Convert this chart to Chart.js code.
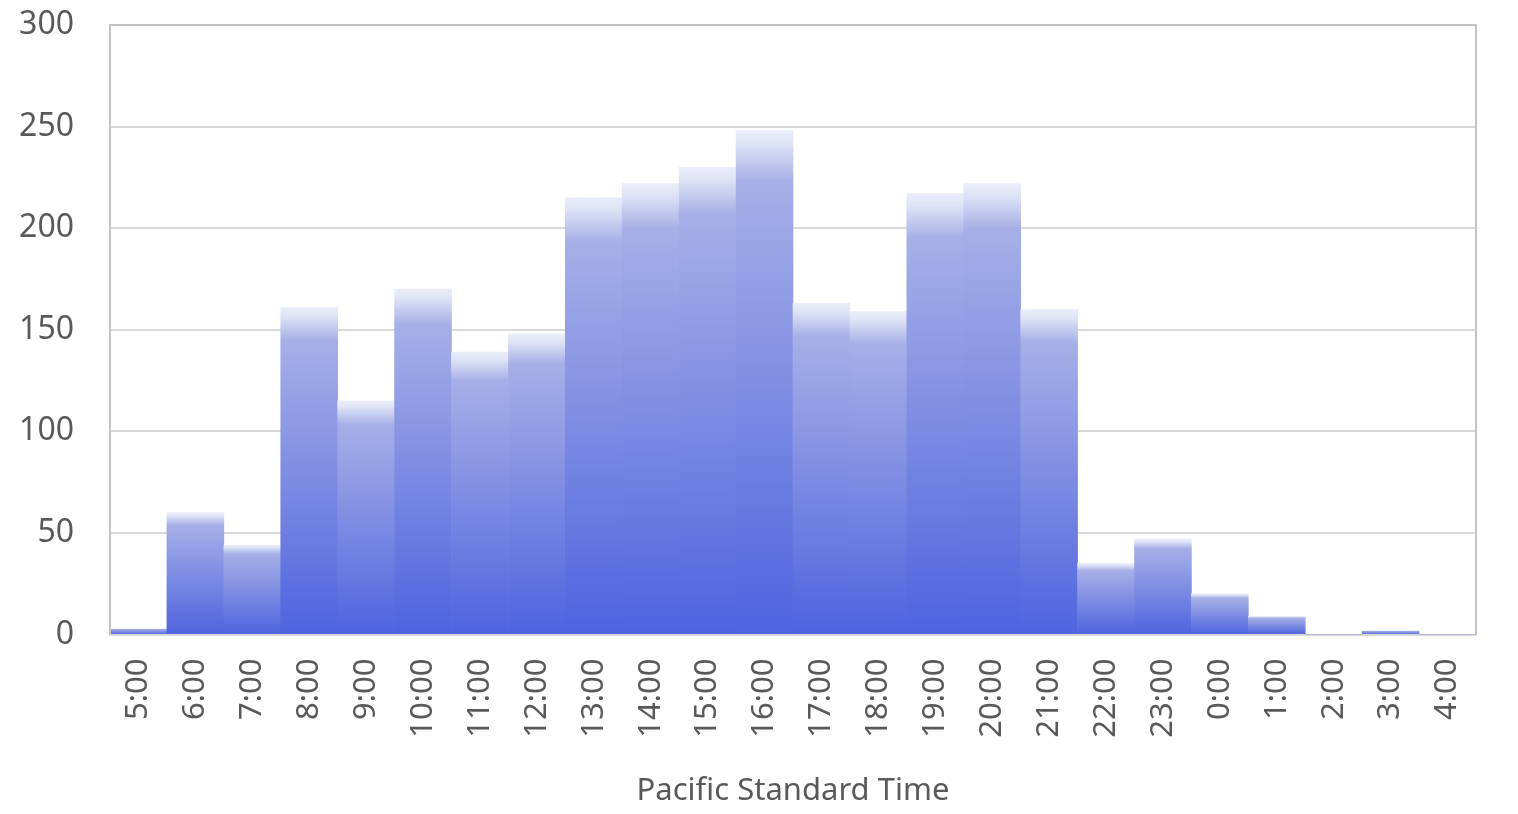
<!DOCTYPE html>
<html>
<head>
<meta charset="utf-8">
<script src="https://cdn.jsdelivr.net/npm/chart.js@4/dist/chart.umd.min.js"></script>
<style>
  html, body { margin: 0; padding: 0; background: #fff; }
  #wrap { width: 1518px; height: 814px; }
</style>
</head>
<body>
<div id="wrap"><canvas id="myChart"></canvas></div>
<script>
// Hours (Pacific Standard Time) and counts
var hours = ['5:00', '6:00', '7:00', '8:00', '9:00', '10:00', '11:00', '12:00',
    '13:00', '14:00', '15:00', '16:00', '17:00', '18:00', '19:00', '20:00',
    '21:00', '22:00', '23:00', '0:00', '1:00', '2:00', '3:00', '4:00'];
var counts = [3, 60, 44, 161, 115, 170, 139, 148,
    215, 222, 230, 248, 163, 159, 217, 222,
    160, 35, 47, 20, 9, 0, 2, 0];
var yTicks = [0, 50, 100, 150, 200, 250, 300];

var textColor = '#595959';
var fontFamily = '"Noto Sans", "Open Sans", sans-serif';

// Each bar gets its own vertical gradient, light at the top, blue at the base
function barGradient(context) {
    var chart = context.chart;
    if (!chart.chartArea) return '#7f8ee3';
    var yScale = chart.scales.y;
    var value = context.raw || 0;
    var top = yScale.getPixelForValue(value);
    var base = yScale.getPixelForValue(0);
    if (base - top < 1) return '#7f8ee3';
    var g = chart.ctx.createLinearGradient(0, top, 0, base);
    g.addColorStop(0, '#eaedf9');
    g.addColorStop(0.025, '#dfe4f6');
    g.addColorStop(0.10, '#a6b0e7');
    g.addColorStop(1, '#4f63de');
    return g;
}

// Box round the plot area
var frame = {
    id: 'frame',
    afterDraw: function (chart) {
        var a = chart.chartArea;
        var c = chart.ctx;
        c.save();
        c.strokeStyle = '#c4c4c4';
        c.lineWidth = 2;
        c.beginPath();
        c.moveTo(a.left, a.bottom);
        c.lineTo(a.left, a.top);
        c.lineTo(a.right, a.top);
        c.lineTo(a.right, a.bottom);
        c.stroke();
        c.restore();
    }
};

var ctx = document.getElementById('myChart').getContext('2d');
var myChart = new Chart(ctx, {
    type: 'bar',
    data: {
        labels: hours,
        datasets: [{
            data: counts,
            backgroundColor: barGradient,
            borderWidth: 0,
            barPercentage: 1,
            categoryPercentage: 1
        }]
    },
    options: {
        responsive: true,
        maintainAspectRatio: false,
        animation: false,
        layout: { padding: { left: 16, right: 42, top: 25, bottom: 0 } },
        plugins: {
            legend: { display: false },
            tooltip: { enabled: false }
        },
        scales: {
            x: {
                grid: { display: false },
                border: { display: true, color: '#d9d9d9', width: 2 },
                ticks: {
                    color: textColor,
                    font: { family: fontFamily, size: 31 },
                    minRotation: 90,
                    maxRotation: 90,
                    padding: 16,
                    autoSkip: false
                },
                title: {
                    display: true,
                    text: 'Pacific Standard Time',
                    color: textColor,
                    font: { family: fontFamily, size: 31 },
                    padding: { top: 19 }
                }
            },
            y: {
                min: 0,
                max: 300,
                afterBuildTicks: function (axis) {
                    axis.ticks = yTicks.map(function (v) { return { value: v }; });
                },
                afterFit: function (axis) {
                    axis.width = 94;
                    axis.paddingTop = 0;
                    axis.paddingBottom = 0;
                },
                grid: { color: '#d9d9d9', lineWidth: 2, drawTicks: false },
                border: { display: false },
                ticks: {
                    color: textColor,
                    font: { family: fontFamily, size: 32 },
                    padding: 36
                }
            }
        }
    },
    plugins: [frame]
});
</script>
</body>
</html>
